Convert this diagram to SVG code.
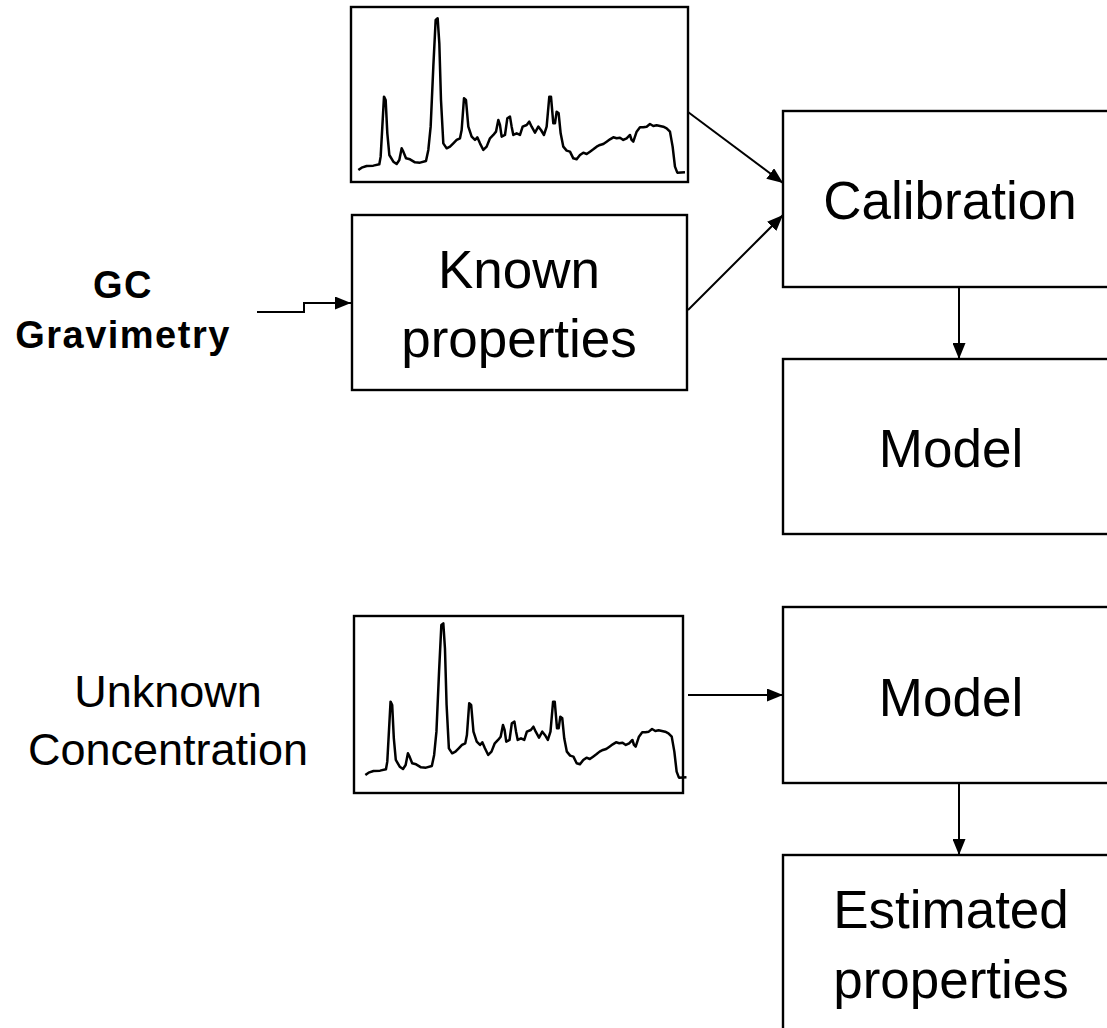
<svg xmlns="http://www.w3.org/2000/svg" width="1107" height="1028" viewBox="0 0 1107 1028">
<style>
.box{fill:#fff;stroke:#000;stroke-width:2.4}
.big{font-family:"Liberation Sans",Arial,sans-serif;font-size:53px;fill:#000;text-anchor:middle}
.lbl{font-family:"Liberation Sans",Arial,sans-serif;font-size:45px;fill:#000;text-anchor:middle}
.bold{font-family:"Liberation Sans",Arial,sans-serif;font-size:38px;font-weight:bold;letter-spacing:1.5px;fill:#000;text-anchor:middle}
.con{fill:none;stroke:#000;stroke-width:2;marker-end:url(#ah)}
.trace{fill:none;stroke:#000;stroke-width:2.5;stroke-linejoin:round}
</style>
<defs>
<marker id="ah" viewBox="0 0 16 13" refX="16" refY="6.5" markerWidth="16" markerHeight="13" orient="auto" markerUnits="userSpaceOnUse">
<path d="M0,0 L16,6.5 L0,13 z" fill="#000"/>
</marker>
<path id="tr" vector-effect="non-scaling-stroke" d="M55,510 L65,503 L80,498 L100,497 L118,493 L122,470 L127,380 L132,290 L137,300 L142,400 L148,465 L160,485 L170,492 L178,480 L185,445 L190,455 L198,475 L210,478 L225,487 L240,488 L258,483 L265,450 L272,380 L280,200 L287,60 L293,55 L298,130 L303,300 L310,430 L320,445 L330,440 L340,430 L350,420 L360,415 L365,390 L372,295 L378,300 L385,380 L395,410 L405,420 L412,412 L420,430 L430,450 L440,440 L450,415 L460,405 L468,395 L475,360 L480,375 L485,410 L495,405 L502,355 L510,350 L515,380 L520,405 L530,400 L540,405 L548,380 L560,375 L568,365 L575,380 L585,398 L595,380 L603,390 L612,405 L620,380 L628,290 L633,290 L640,370 L645,370 L650,335 L656,340 L662,400 L670,440 L680,452 L690,455 L700,475 L710,478 L720,465 L730,458 L740,462 L750,455 L760,448 L770,440 L780,435 L790,432 L800,425 L810,418 L820,412 L830,415 L840,413 L850,420 L860,415 L870,405 L875,420 L880,425 L890,395 L900,382 L910,382 L920,380 L930,372 L940,378 L950,376 L960,378 L970,380 L980,385 L990,395 L998,440 L1005,500 L1012,518 L1035,517"/>
</defs>

<g id="chrom-top">
<rect class="box" x="351" y="7" width="337" height="175"/>
<use href="#tr" class="trace" transform="translate(340,0) scale(0.3333)"/>
</g>

<g id="known-properties">
<rect class="box" x="352" y="215" width="335" height="175"/>
<text class="big" x="519" y="288">Known</text>
<text class="big" x="519" y="357">properties</text>
</g>

<g id="gc-label">
<text class="bold" x="123" y="298">GC</text>
<text class="bold" x="123" y="348">Gravimetry</text>
</g>

<g id="calibration">
<rect class="box" x="783" y="111" width="340" height="176"/>
<text class="big" x="950" y="219">Calibration</text>
</g>

<g id="model-1">
<rect class="box" x="783" y="359" width="340" height="175"/>
<text class="big" x="951" y="467">Model</text>
</g>

<g id="unknown-label">
<text class="lbl" x="168" y="707">Unknown</text>
<text class="lbl" x="168" y="765">Concentration</text>
</g>

<g id="chrom-bottom">
<rect class="box" x="354" y="616" width="329" height="177"/>
<use href="#tr" class="trace" transform="translate(347.3,605) scale(0.3277,0.3333)"/>
</g>

<g id="model-2">
<rect class="box" x="783" y="607" width="340" height="176"/>
<text class="big" x="951" y="716">Model</text>
</g>

<g id="estimated-properties">
<rect class="box" x="783" y="855" width="340" height="200"/>
<text class="big" x="951" y="928">Estimated</text>
<text class="big" x="951" y="998">properties</text>
</g>

<g id="connectors">
<path class="con" d="M688,112 L783,183"/>
<path class="con" d="M688,310 L783,215"/>
<path class="con" d="M257,312 L304,312 L304,303 L351,303"/>
<path class="con" d="M959,287 L959,359"/>
<path class="con" d="M688,695 L783,695"/>
<path class="con" d="M959,783 L959,855"/>
</g>
</svg>
